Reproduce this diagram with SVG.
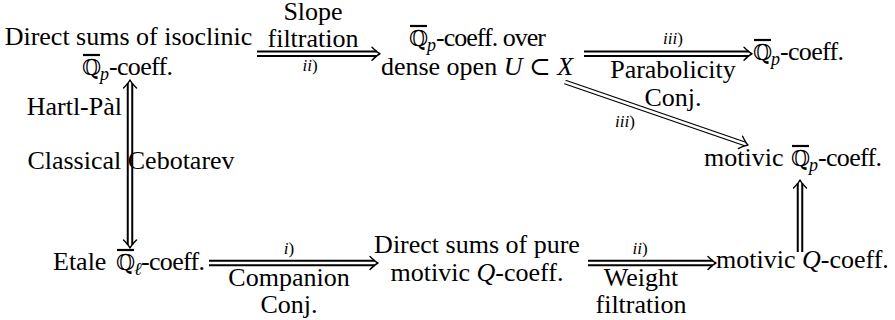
<svg xmlns="http://www.w3.org/2000/svg" width="895" height="320" viewBox="0 0 895 320" font-family="'Liberation Serif', 'Times New Roman', 'DejaVu Serif', serif">
<defs>
<style>
text { font-family: 'Liberation Serif', 'Times New Roman', 'DejaVu Serif', serif; font-size: 26px; fill: #000; }
.m { text-anchor: middle; }
.e { text-anchor: end; }
.it { font-style: italic; }
.bb { font-family: 'DejaVu Serif', 'DejaVu Sans', serif; font-size: 22px; font-style: normal; }
.sub { font-size: 18px; font-style: italic; }
.lab { font-size: 17px; font-style: italic; }
.up { font-style: normal; }
.bar { stroke: #000; stroke-width: 2.2; }
.do { fill: none; stroke: #000; stroke-width: 6.5; }
.di { fill: none; stroke: #fff; stroke-width: 2.5; }
.do2 { fill: none; stroke: #000; stroke-width: 5; }
.di2 { fill: none; stroke: #fff; stroke-width: 2.6; }
.hd { fill: none; stroke: #000; stroke-width: 1.4; stroke-linecap: round; stroke-linejoin: round; }
</style>
<path id="hd" class="hd" d="M-8,-6.5 Q-3,-1.5 0,0 Q-3,1.5 -8,6.5"/>
</defs>
<rect width="895" height="320" fill="#fff"/>

<g id="connectors">
  <g id="c-slope">
    <path class="do" d="M257,53.75 H377"/><path class="di" d="M257,53.75 H377"/>
    <use href="#hd" transform="translate(380,53.75)"/>
    <text class="m" x="313" y="20">Slope</text>
    <text class="m" x="313" y="47">filtration</text>
    <text class="m lab" x="310" y="71">ii<tspan class="up">)</tspan></text>
  </g>
  <g id="c-parab">
    <path class="do" d="M584,53.75 H749"/><path class="di" d="M584,53.75 H749"/>
    <use href="#hd" transform="translate(752,53.75)"/>
    <text class="m lab" x="673" y="44">iii<tspan class="up">)</tspan></text>
    <text class="m" x="673" y="78">Parabolicity</text>
    <text class="m" x="673" y="106">Conj.</text>
  </g>
  <g id="c-diag">
    <path class="do2" d="M565,82 L745.2,144"/><path class="di2" d="M565,82 L745.2,144"/>
    <use href="#hd" transform="translate(748,145) rotate(19)"/>
    <text class="m lab" x="625" y="127">iii<tspan class="up">)</tspan></text>
  </g>
  <g id="c-vert-left">
    <path class="do" d="M130,83 V245"/><path class="di" d="M130,83 V245"/>
    <use href="#hd" transform="translate(130,80) rotate(-90)"/>
    <use href="#hd" transform="translate(130,248) rotate(90)"/>
    <text class="e" x="122" y="115">Hartl-Pàl</text>
    <text class="m" x="131" y="169">Classical Cebotarev</text>
  </g>
  <g id="c-companion">
    <path class="do" d="M209,263 H375"/><path class="di" d="M209,263 H375"/>
    <use href="#hd" transform="translate(378,263)"/>
    <text class="m lab" x="289" y="254">i<tspan class="up">)</tspan></text>
    <text class="m" x="289" y="286">Companion</text>
    <text class="m" x="289" y="313">Conj.</text>
  </g>
  <g id="c-weight">
    <path class="do" d="M588,263 H713"/><path class="di" d="M588,263 H713"/>
    <use href="#hd" transform="translate(716,263)"/>
    <text class="m lab" x="640" y="254">ii<tspan class="up">)</tspan></text>
    <text class="m" x="641" y="286">Weight</text>
    <text class="m" x="641" y="313">filtration</text>
  </g>
  <g id="c-vert-right">
    <path class="do" d="M800,252 V183"/><path class="di" d="M800,252 V183"/>
    <use href="#hd" transform="translate(800,180) rotate(-90)"/>
  </g>
</g>

<g id="n-isoclinic">
  <text class="m" x="128.5" y="45">Direct sums of isoclinic</text>
  <text x="82" y="75"><tspan class="bb">ℚ</tspan><tspan class="sub" x="100" y="80">p</tspan><tspan x="109" y="75" textLength="64">-coeff.</tspan></text>
  <line class="bar" x1="83" y1="55" x2="100" y2="55"/>
</g>

<g id="n-open">
  <text x="409" y="46"><tspan class="bb">ℚ</tspan><tspan class="sub" x="427" y="51">p</tspan><tspan x="436" y="46" textLength="110">-coeff. over</tspan></text>
  <line class="bar" x1="410" y1="26" x2="427" y2="26"/>
  <text class="m" x="477" y="75">dense open <tspan class="it">U</tspan> ⊂ <tspan class="it">X</tspan></text>
</g>

<g id="n-qp">
  <text x="753" y="60"><tspan class="bb">ℚ</tspan><tspan class="sub" x="771" y="65">p</tspan><tspan x="780" y="60" textLength="64">-coeff.</tspan></text>
  <line class="bar" x1="754" y1="40" x2="771" y2="40"/>
</g>

<g id="n-motivic-qp">
  <text x="704" y="166">motivic <tspan class="bb" x="791">ℚ</tspan><tspan class="sub" x="809" y="171">p</tspan><tspan x="818" y="166" textLength="64">-coeff.</tspan></text>
  <line class="bar" x1="792" y1="146" x2="809" y2="146"/>
</g>

<g id="n-etale">
  <text x="53" y="270">Etale <tspan class="bb" x="116">ℚ</tspan><tspan class="sub" x="134" y="275">ℓ</tspan><tspan x="141" y="270" textLength="64">-coeff.</tspan></text>
  <line class="bar" x1="117" y1="250" x2="134" y2="250"/>
</g>

<g id="n-pure">
  <text class="m" x="477" y="253">Direct sums of pure</text>
  <text class="m" x="477" y="281">motivic <tspan class="it">Q</tspan>-coeff.</text>
</g>

<g id="n-motivic-q">
  <text x="716" y="268">motivic <tspan class="it">Q</tspan>-coeff.</text>
</g>
</svg>
